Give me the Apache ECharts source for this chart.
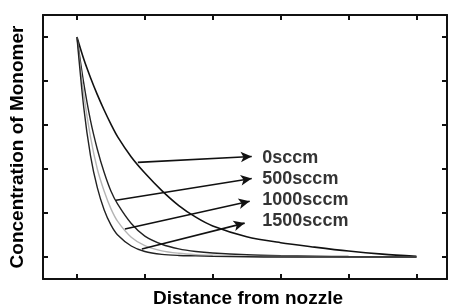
<!DOCTYPE html>
<html>
<head>
<meta charset="utf-8">
<script src="https://cdn.jsdelivr.net/npm/echarts@6/dist/echarts.min.js"></script>
<style>
  html, body { margin: 0; padding: 0; background: #fff; }
  #container { width: 450px; height: 306px; }
</style>
</head>
<body>
<div id="container"></div>
<script>
// distance from nozzle (arbitrary units, tick at every unit)
var distance = [0, 0.1, 0.2, 0.3, 0.4, 0.5, 0.6, 0.8, 1.0, 1.25, 1.5, 1.75, 2, 2.5, 3, 3.5, 4, 4.5, 5];

// normalised monomer concentration
var c0 = [1.0, 0.90, 0.815, 0.738, 0.668, 0.604, 0.546, 0.455, 0.382, 0.302, 0.234, 0.181, 0.141, 0.092, 0.065, 0.045, 0.027, 0.013, 0.003];
var c500 = [1.0, 0.79, 0.62, 0.49, 0.385, 0.30, 0.24, 0.152, 0.095, 0.058, 0.037, 0.025, 0.018, 0.010, 0.006, 0.004, 0.002, 0.001, 0];
var c1000 = [1.0, 0.74, 0.545, 0.40, 0.30, 0.22, 0.162, 0.09, 0.052, 0.028, 0.017, 0.011, 0.008, 0.004, 0.002, 0.001, 0, 0, 0];
var c1500 = [1.0, 0.68, 0.46, 0.315, 0.215, 0.146, 0.10, 0.05, 0.025, 0.012, 0.007, 0.005, 0.003, 0.001, 0, 0, 0, 0, 0];

var seriesNames = ['0sccm', '500sccm', '1000sccm', '1500sccm'];
var tickValues = [0, 1, 2, 3, 4, 5];
var yTickValues = [0, 0.2, 0.4, 0.6, 0.8, 1.0];

// arrows: [from x, from y, to x, to y]
var arrows = [
    [0.897, 0.430, 2.574, 0.457],
    [0.574, 0.258, 2.574, 0.357],
    [0.706, 0.127, 2.544, 0.253],
    [0.956, 0.036, 2.470, 0.154]
];
var labelY = [0.448, 0.355, 0.261, 0.164];

function pairs(ys) {
    return distance.map(function (x, i) { return [x, ys[i]]; });
}

var font = 'Liberation Sans, Arial, sans-serif';
var axisLine = { show: true, onZero: false, lineStyle: { color: '#111', width: 2 } };
var tick = { show: true, inside: true, length: 5, lineStyle: { color: '#111', width: 2 } };

var myChart = echarts.init(document.getElementById('container'));

var option = {
    animation: false,
    grid: { left: 43, top: 15, right: 3, bottom: 27, outerBoundsMode: 'none', containLabel: false },
    xAxis: [
        {
            type: 'value', min: -0.5, max: 5.45, position: 'bottom',
            axisLine: axisLine,
            axisTick: Object.assign({ customValues: tickValues }, tick),
            axisLabel: { show: false },
            splitLine: { show: false },
            name: 'Distance from nozzle',
            nameLocation: 'middle',
            nameGap: 10,
            nameTextStyle: { fontFamily: font, fontWeight: 'bold', fontSize: 19, color: '#000', padding: [0, 0, 0, 6] }
        },
        {
            type: 'value', min: -0.5, max: 5.45, position: 'top',
            axisLine: axisLine,
            axisTick: Object.assign({ customValues: tickValues }, tick),
            axisLabel: { show: false },
            splitLine: { show: false }
        }
    ],
    yAxis: [
        {
            type: 'value', min: -0.1, max: 1.1, position: 'left',
            axisLine: axisLine,
            axisTick: Object.assign({ customValues: yTickValues }, tick),
            axisLabel: { show: false },
            splitLine: { show: false },
            name: 'Concentration of Monomer',
            nameLocation: 'middle',
            nameGap: 16,
            nameTextStyle: { fontFamily: font, fontWeight: 'bold', fontSize: 19, color: '#000' }
        },
        {
            type: 'value', min: -0.1, max: 1.1, position: 'right',
            axisLine: axisLine,
            axisTick: Object.assign({ customValues: yTickValues }, tick),
            axisLabel: { show: false },
            splitLine: { show: false }
        }
    ],
    series: [
        {
            name: seriesNames[0], type: 'line', smooth: 0.3, showSymbol: false,
            lineStyle: { color: '#111', width: 1.6 },
            data: pairs(c0),
            markLine: {
                silent: true,
                symbol: ['none', 'arrow'],
                symbolSize: [8, 11],
                label: { show: false },
                lineStyle: { color: '#111', width: 1.6, type: 'solid' },
                data: arrows.map(function (a) {
                    return [{ coord: [a[0], a[1]] }, { coord: [a[2], a[3]] }];
                })
            }
        },
        {
            name: seriesNames[1], type: 'line', smooth: 0.3, showSymbol: false,
            lineStyle: { color: '#222', width: 1.4 },
            data: pairs(c500)
        },
        {
            name: seriesNames[2], type: 'line', smooth: 0.3, showSymbol: false,
            lineStyle: { color: '#b5b5b5', width: 1.4 },
            data: pairs(c1000)
        },
        {
            name: seriesNames[3], type: 'line', smooth: 0.3, showSymbol: false,
            lineStyle: { color: '#222', width: 1.4 },
            data: pairs(c1500)
        },
        {
            type: 'scatter', symbolSize: 0, silent: true,
            data: seriesNames.map(function (n, i) { return [2.73, labelY[i], n]; }),
            label: {
                show: true, position: 'right', distance: 0,
                formatter: function (p) { return p.value[2]; },
                fontFamily: font, fontWeight: 'bold', fontSize: 18, color: '#000'
            }
        }
    ]
};

myChart.setOption(option);
window.addEventListener('resize', myChart.resize);
</script>
</body>
</html>
